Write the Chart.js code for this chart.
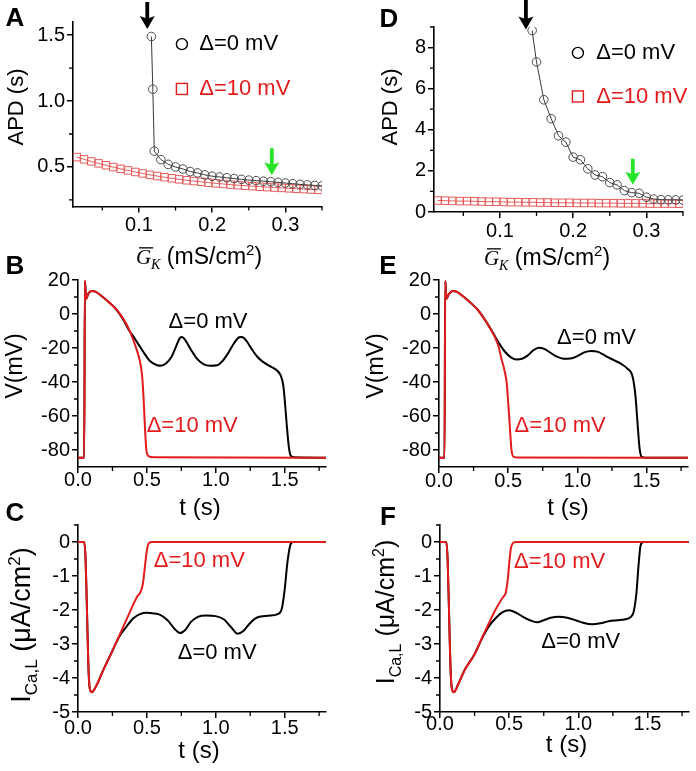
<!DOCTYPE html>
<html>
<head>
<meta charset="utf-8">
<script src="https://cdn.jsdelivr.net/npm/chart.js@4.4.1/dist/chart.umd.min.js"></script>
<style>
  html, body { margin: 0; padding: 0; background: #fff; }
  #fig { position: relative; width: 696px; height: 771px; overflow: hidden; }
  #fig canvas { position: absolute; }
</style>
</head>
<body>
<div id="fig">
  <canvas id="panelA" width="348" height="275" style="left:0;top:0"></canvas>
  <canvas id="panelD" width="348" height="275" style="left:348px;top:0"></canvas>
  <canvas id="panelB" width="348" height="285" style="left:0;top:240px"></canvas>
  <canvas id="panelE" width="348" height="285" style="left:348px;top:240px"></canvas>
  <canvas id="panelC" width="348" height="276" style="left:0;top:495px"></canvas>
  <canvas id="panelF" width="348" height="276" style="left:348px;top:495px"></canvas>
</div>
<script>
const RED = "#e41a1c";
const GREEN = "#27e427";
const SANS = "'Liberation Sans', Arial, sans-serif";
const SERIF = "'Liberation Serif', 'Times New Roman', serif";

// ---- A: APD vs G_K
const gkA0 = [0.117, 0.119, 0.121, 0.13, 0.14, 0.15, 0.16, 0.17, 0.18, 0.19, 0.20, 0.21, 0.22, 0.23, 0.24, 0.25, 0.26, 0.27, 0.28, 0.29, 0.30, 0.31, 0.32, 0.33, 0.34, 0.35];
const apdA0 = [1.49, 1.09, 0.62, 0.556, 0.52, 0.50, 0.485, 0.465, 0.455, 0.44, 0.43, 0.424, 0.418, 0.412, 0.406, 0.40, 0.396, 0.392, 0.388, 0.383, 0.378, 0.373, 0.368, 0.364, 0.36, 0.356];
const gkA10 = [0.015, 0.025, 0.035, 0.045, 0.055, 0.065, 0.075, 0.085, 0.095, 0.105, 0.115, 0.125, 0.135, 0.145, 0.155, 0.165, 0.175, 0.185, 0.195, 0.205, 0.215, 0.225, 0.235, 0.245, 0.255, 0.265, 0.275, 0.285, 0.295, 0.305, 0.315, 0.325, 0.335, 0.345];
const apdA10 = [0.575, 0.558, 0.542, 0.527, 0.513, 0.499, 0.486, 0.474, 0.462, 0.451, 0.440, 0.431, 0.422, 0.414, 0.406, 0.399, 0.393, 0.387, 0.381, 0.376, 0.371, 0.366, 0.362, 0.358, 0.354, 0.350, 0.347, 0.344, 0.341, 0.338, 0.335, 0.332, 0.329, 0.326];

// ---- D: APD vs G_K
const gkD0 = [0.144, 0.15, 0.16, 0.17, 0.18, 0.19, 0.20, 0.21, 0.22, 0.23, 0.24, 0.25, 0.26, 0.27, 0.28, 0.29, 0.30, 0.31, 0.32, 0.33, 0.34, 0.35];
const apdD0 = [8.83, 7.30, 5.46, 4.54, 3.71, 3.40, 2.67, 2.54, 2.10, 1.80, 1.72, 1.43, 1.32, 1.04, 0.94, 0.91, 0.72, 0.63, 0.60, 0.59, 0.59, 0.58];
const gkD10 = [0.015, 0.025, 0.035, 0.045, 0.055, 0.065, 0.075, 0.085, 0.095, 0.105, 0.115, 0.125, 0.135, 0.145, 0.155, 0.165, 0.175, 0.185, 0.195, 0.205, 0.215, 0.225, 0.235, 0.245, 0.255, 0.265, 0.275, 0.285, 0.295, 0.305, 0.315, 0.325, 0.335, 0.345];
const apdD10 = [0.56, 0.55, 0.54, 0.53, 0.53, 0.52, 0.51, 0.50, 0.50, 0.49, 0.48, 0.48, 0.47, 0.47, 0.46, 0.46, 0.45, 0.45, 0.45, 0.44, 0.44, 0.44, 0.43, 0.43, 0.43, 0.42, 0.42, 0.42, 0.42, 0.41, 0.41, 0.41, 0.41, 0.40];

// ---- B: V(t)
const tB0 = [0, 0.045, 0.05, 0.06, 0.075, 0.1, 0.13, 0.18, 0.23, 0.28, 0.33, 0.37, 0.40, 0.44, 0.48, 0.52, 0.57, 0.60, 0.64, 0.68, 0.71, 0.74, 0.755, 0.78, 0.82, 0.86, 0.91, 0.96, 1.01, 1.05, 1.09, 1.13, 1.17, 1.19, 1.22, 1.26, 1.30, 1.34, 1.40, 1.44, 1.47, 1.49, 1.50, 1.515, 1.53, 1.545, 1.57, 1.8];
const vB0 = [-84.5, -84.5, 19.5, 9, 12, 13.5, 13, 10, 6.5, 2.5, -3.5, -9.5, -13, -18, -23, -27.5, -30, -30.5, -29, -25, -19.5, -14, -13.5, -15.5, -21, -26, -29.5, -30.5, -30.2, -27.5, -23, -17.5, -13.7, -13.5, -15.5, -20.5, -25, -28, -31, -33, -36, -42, -50, -65, -78, -83.5, -84.3, -84.5];
const tB10 = [0, 0.045, 0.05, 0.06, 0.075, 0.1, 0.13, 0.18, 0.23, 0.28, 0.33, 0.37, 0.40, 0.43, 0.45, 0.465, 0.475, 0.485, 0.495, 0.51, 0.55, 1.8];
const vB10 = [-84.5, -84.5, 19.5, 9, 12, 13.5, 13, 10, 6.5, 2.5, -3, -9, -15, -22, -28, -36, -48, -65, -79, -83.5, -84.3, -84.5];

// ---- E: V(t)
const tE0 = [0, 0.04, 0.045, 0.055, 0.07, 0.1, 0.13, 0.18, 0.23, 0.28, 0.32, 0.36, 0.40, 0.44, 0.48, 0.52, 0.56, 0.60, 0.64, 0.68, 0.72, 0.76, 0.80, 0.85, 0.90, 0.95, 1.0, 1.05, 1.10, 1.15, 1.20, 1.26, 1.32, 1.36, 1.40, 1.42, 1.435, 1.45, 1.465, 1.49, 1.8];
const vE0 = [-84.5, -84.5, 19.5, 9, 11.5, 13.5, 13, 10, 6.5, 2.5, -2, -7, -12.5, -18, -22.5, -25.5, -26.7, -26.3, -24.5, -21.5, -19.8, -20.5, -22.5, -25, -26.3, -26.2, -24.8, -22.6, -21.7, -22.3, -24.5, -27, -29.5, -32, -37, -48, -64, -79, -84, -84.5, -84.5];
const tE10 = [0, 0.04, 0.045, 0.055, 0.07, 0.1, 0.13, 0.18, 0.23, 0.28, 0.32, 0.36, 0.40, 0.43, 0.45, 0.47, 0.49, 0.50, 0.507, 0.515, 0.524, 0.54, 0.57, 1.8];
const vE10 = [-84.5, -84.5, 19.5, 9, 11.5, 13.5, 13, 10, 6.5, 2.5, -2, -7, -13, -19, -26, -32, -41, -52, -60, -70, -80, -84, -84.4, -84.5];

// ---- C: I_CaL(t)
const tC0 = [0, 0.045, 0.055, 0.065, 0.075, 0.085, 0.1, 0.13, 0.18, 0.25, 0.3, 0.35, 0.4, 0.45, 0.5, 0.55, 0.6, 0.65, 0.7, 0.74, 0.78, 0.82, 0.87, 0.93, 1.0, 1.06, 1.11, 1.16, 1.2, 1.25, 1.3, 1.38, 1.45, 1.48, 1.5, 1.52, 1.54, 1.56, 1.8];
const iC0 = [0, 0, -0.5, -2, -3.6, -4.3, -4.42, -4.25, -3.8, -3.2, -2.78, -2.5, -2.25, -2.12, -2.08, -2.1, -2.15, -2.3, -2.55, -2.68, -2.58, -2.35, -2.2, -2.16, -2.18, -2.28, -2.5, -2.7, -2.62, -2.38, -2.22, -2.17, -2.12, -1.95, -1.4, -0.6, -0.1, 0, 0];
const tC10 = [0, 0.045, 0.055, 0.065, 0.075, 0.085, 0.1, 0.13, 0.18, 0.25, 0.3, 0.35, 0.4, 0.43, 0.45, 0.47, 0.485, 0.5, 0.515, 0.54, 1.8];
const iC10 = [0, 0, -0.5, -2, -3.6, -4.3, -4.42, -4.25, -3.8, -3.2, -2.75, -2.3, -1.85, -1.6, -1.5, -1.25, -0.75, -0.25, -0.03, 0, 0];

// ---- F: I_CaL(t)
const tF0 = [0, 0.045, 0.055, 0.065, 0.075, 0.085, 0.1, 0.13, 0.18, 0.25, 0.3, 0.35, 0.4, 0.45, 0.5, 0.55, 0.6, 0.65, 0.7, 0.75, 0.8, 0.86, 0.92, 0.98, 1.04, 1.1, 1.16, 1.22, 1.28, 1.34, 1.38, 1.4, 1.42, 1.435, 1.45, 1.47, 1.8];
const iF0 = [0, 0, -0.5, -2, -3.6, -4.3, -4.42, -4.2, -3.75, -3.3, -2.87, -2.5, -2.25, -2.07, -2.01, -2.08, -2.2, -2.3, -2.36, -2.3, -2.23, -2.2, -2.23, -2.3, -2.38, -2.42, -2.39, -2.33, -2.3, -2.27, -2.2, -2.05, -1.5, -0.7, -0.1, 0, 0];
const tF10 = [0, 0.045, 0.055, 0.065, 0.075, 0.085, 0.1, 0.13, 0.18, 0.25, 0.3, 0.35, 0.4, 0.44, 0.46, 0.475, 0.49, 0.5, 0.512, 0.53, 0.55, 1.8];
const iF10 = [0, 0, -0.5, -2, -3.6, -4.3, -4.42, -4.2, -3.75, -3.3, -2.85, -2.42, -2.0, -1.72, -1.6, -1.5, -1.1, -0.65, -0.2, -0.02, 0, 0];

// ---- ticks
const gkTicks = [0.1, 0.2, 0.3], gkLabels = ["0.1", "0.2", "0.3"];
const apdATicks = [0.5, 1.0, 1.5], apdALabels = ["0.5", "1.0", "1.5"];
const apdDTicks = [0, 2, 4, 6, 8], apdDLabels = ["0", "2", "4", "6", "8"];
const tTicks = [0, 0.5, 1.0, 1.5], tLabels = ["0.0", "0.5", "1.0", "1.5"];
const vTicks = [-80, -60, -40, -20, 0, 20], vLabels = ["-80", "-60", "-40", "-20", "0", "20"];
const iTicks = [-5, -4, -3, -2, -1, 0], iLabels = ["-5", "-4", "-3", "-2", "-1", "0"];

const pts = (xs, ys) => xs.map((x, i) => ({ x, y: ys[i] }));

function trace(xs, ys, color) {
  return { data: pts(xs, ys), borderColor: color, borderWidth: 2, pointRadius: 0, cubicInterpolationMode: "monotone", fill: false };
}
function circles(xs, ys) {
  return { data: pts(xs, ys), borderColor: "#3a3a3a", borderWidth: 1, pointStyle: "circle", pointRadius: 4.3,
    pointBorderColor: "#4a4a4a", pointBorderWidth: 1, pointBackgroundColor: "rgba(0,0,0,0)", tension: 0 };
}
function squares(xs, ys) {
  return { data: pts(xs, ys), borderColor: "#e85a5a", borderWidth: 1, pointStyle: "rect", pointRadius: 5.3,
    pointBorderColor: "#e85a5a", pointBorderWidth: 1, pointBackgroundColor: "rgba(0,0,0,0)", tension: 0 };
}

function axis(o) {
  return {
    type: "linear", min: o.min, max: o.max,
    afterFit: s => { if (s.isHorizontal()) s.height = o.size; else s.width = o.size; },
    afterBuildTicks: s => { s.ticks = o.ticks.map(v => ({ value: v })); },
    ticks: { callback: (v, i) => o.labels[i], color: "#000", font: { family: SANS, size: 20 },
      padding: o.pad === undefined ? 2 : o.pad, autoSkip: false, maxRotation: 0 },
    grid: { drawOnChartArea: false, tickLength: 6, tickWidth: 1.5, tickColor: "#000", color: "#000", lineWidth: 1.5 },
    border: { color: "#000", width: 1.6 }
  };
}

function rich(ctx, parts, ox, oy, rotated) {
  ctx.save();
  ctx.textAlign = "left"; ctx.textBaseline = "alphabetic"; ctx.fillStyle = "#000";
  const fontOf = p => `${p.style || ""} ${p.size}px ${p.serif ? SERIF : SANS}`;
  let w = 0;
  parts.forEach(p => { ctx.font = fontOf(p); p.w = ctx.measureText(p.t).width; w += p.w; });
  ctx.translate(ox, oy);
  if (rotated) ctx.rotate(-Math.PI / 2);
  let x = -w / 2;
  parts.forEach(p => {
    ctx.font = fontOf(p);
    ctx.fillText(p.t, x, p.dy || 0);
    if (p.bar) ctx.fillRect(x + 3, -p.size * 0.8, p.w - 1, 1.3);
    x += p.w;
  });
  ctx.restore();
}

function arrow(ctx, x, tip, len, color) {
  const hw = 7.5, hl = 13, sw = 1.9;
  ctx.fillStyle = color;
  ctx.beginPath();
  ctx.moveTo(x, tip);
  ctx.lineTo(x - hw, tip - hl);
  ctx.lineTo(x - sw, tip - hl + 2);
  ctx.lineTo(x - sw, tip - len);
  ctx.lineTo(x + sw, tip - len);
  ctx.lineTo(x + sw, tip - hl + 2);
  ctx.lineTo(x + hw, tip - hl);
  ctx.closePath();
  ctx.fill();
}

const decor = d => ({
  id: "decor",
  afterDraw(chart) {
    const { ctx, chartArea: a, scales } = chart;
    const sx = v => scales.x.getPixelForValue(v), sy = v => scales.y.getPixelForValue(v);
    ctx.save();
    // minor ticks
    ctx.strokeStyle = "#000"; ctx.lineWidth = 1.3;
    ctx.beginPath();
    d.xMinor.forEach(v => { ctx.moveTo(sx(v), a.bottom); ctx.lineTo(sx(v), a.bottom + 4); });
    d.yMinor.forEach(v => { ctx.moveTo(a.left, sy(v)); ctx.lineTo(a.left - 4, sy(v)); });
    ctx.stroke();
    // panel letter
    ctx.fillStyle = "#000"; ctx.font = `bold 26px ${SANS}`;
    ctx.textAlign = "center"; ctx.textBaseline = "middle";
    ctx.fillText(d.letter, d.letterAt[0], d.letterAt[1]);
    // axis titles
    rich(ctx, d.xTitle, d.xTitleAt[0], d.xTitleAt[1], false);
    rich(ctx, d.yTitle, d.yTitleAt[0], d.yTitleAt[1], true);
    // labels inside the plot
    ctx.font = `22px ${SANS}`; ctx.textBaseline = "middle";
    (d.labels || []).forEach(l => {
      ctx.fillStyle = l.color; ctx.textAlign = "center";
      ctx.fillText(l.text, sx(l.x), sy(l.y));
    });
    // legend keys
    (d.keys || []).forEach(k => {
      const px = sx(k.x), py = sy(k.y);
      ctx.lineWidth = 1.4; ctx.strokeStyle = k.color;
      if (k.marker === "circle") { ctx.beginPath(); ctx.arc(px, py, 5.5, 0, Math.PI * 2); ctx.stroke(); }
      else ctx.strokeRect(px - 5.5, py - 5.5, 11, 11);
      ctx.fillStyle = k.color; ctx.textAlign = "left";
      ctx.fillText(k.text, sx(k.textX), py);
    });
    // arrows
    (d.arrows || []).forEach(ar => arrow(ctx, sx(ar.x), sy(ar.y), ar.len, ar.color));
    ctx.restore();
  }
});

function panel(id, cfg) {
  return new Chart(document.getElementById(id), {
    type: "line",
    data: { datasets: cfg.datasets },
    options: {
      responsive: false, animation: false, events: [],
      layout: { padding: { top: cfg.pad[0], right: cfg.pad[1], left: 0, bottom: 0 } },
      plugins: { legend: { display: false }, tooltip: { enabled: false } },
      scales: { x: axis(cfg.x), y: axis(cfg.y) }
    },
    plugins: [decor(cfg.decor)]
  });
}

const gkTitle = () => [
  { t: "G", size: 21, style: "italic", serif: true, bar: true },
  { t: "K", size: 14, style: "italic", serif: true, dy: 5 },
  { t: " (mS/cm", size: 23 }, { t: "2", size: 15, dy: -9 }, { t: ")", size: 23 }
];
const tTitle = () => [{ t: "t (s)", size: 24 }];
const iTitle = s => [
  { t: "I", size: s }, { t: "Ca,L", size: Math.round(s * 0.64), dy: 7 },
  { t: " (\u03bcA/cm", size: s }, { t: "2", size: Math.round(s * 0.64), dy: -10 }, { t: ")", size: s }
];

// red traces go first so they are painted on top
panel("panelA", {
  datasets: [circles(gkA0, apdA0), squares(gkA10, apdA10)],
  pad: [22, 26],
  x: { min: 0.01, max: 0.35, size: 68.5, ticks: gkTicks, labels: gkLabels, pad: 1 },
  y: { min: 0.2, max: 1.6, size: 73, ticks: apdATicks, labels: apdALabels },
  decor: {
    letter: "A", letterAt: [15, 19],
    xTitle: gkTitle(), xTitleAt: [199, 264],
    yTitle: [{ t: "APD (s)", size: 22 }], yTitleAt: [23, 107],
    xMinor: [0.05, 0.15, 0.25, 0.35], yMinor: [0.25, 0.75, 1.25],
    keys: [
      { marker: "circle", x: 0.1587, y: 1.432, textX: 0.1823, text: "\u0394=0 mV", color: "#000" },
      { marker: "rect", x: 0.1587, y: 1.092, textX: 0.1823, text: "\u0394=10 mV", color: RED }
    ],
    arrows: [{ x: 0.1114, y: 1.547, len: 27, color: "#000" }, { x: 0.2815, y: 0.437, len: 27, color: GREEN }]
  }
});

panel("panelD", {
  datasets: [circles(gkD0, apdD0), squares(gkD10, apdD10)],
  pad: [27, 13],
  x: { min: 0.01, max: 0.35, size: 63, ticks: gkTicks, labels: gkLabels, pad: 1.5 },
  y: { min: 0, max: 9, size: 86, ticks: apdDTicks, labels: apdDLabels },
  decor: {
    letter: "D", letterAt: [41, 20],
    xTitle: gkTitle(), xTitleAt: [199, 265],
    yTitle: [{ t: "APD (s)", size: 22 }], yTitleAt: [49, 107],
    xMinor: [0.05, 0.15, 0.25, 0.35], yMinor: [1, 3, 5, 7, 9],
    keys: [
      { marker: "circle", x: 0.2065, y: 7.74, textX: 0.2315, text: "\u0394=0 mV", color: "#000" },
      { marker: "rect", x: 0.2065, y: 5.62, textX: 0.2315, text: "\u0394=10 mV", color: RED }
    ],
    arrows: [{ x: 0.1355, y: 8.88, len: 30, color: "#000" }, { x: 0.2815, y: 1.32, len: 26, color: GREEN }]
  }
});

panel("panelB", {
  datasets: [trace(tB10, vB10, RED), trace(tB0, vB0, "#000")],
  pad: [40, 22],
  x: { min: 0, max: 1.8, size: 58, ticks: tTicks, labels: tLabels, pad: -4.5 },
  y: { min: -90, max: 20, size: 78, ticks: vTicks, labels: vLabels },
  decor: {
    letter: "B", letterAt: [15, 27],
    xTitle: tTitle(), xTitleAt: [200, 275],
    yTitle: [{ t: "V(mV)", size: 23 }], yTitleAt: [22, 126],
    xMinor: [0.25, 0.75, 1.25, 1.75], yMinor: [-70, -50, -30, -10, 10],
    labels: [
      { x: 0.944, y: -4.5, text: "\u0394=0 mV", color: "#000" },
      { x: 0.829, y: -65.9, text: "\u0394=10 mV", color: RED }
    ]
  }
});

panel("panelE", {
  datasets: [trace(tE10, vE10, RED), trace(tE0, vE0, "#000")],
  pad: [40, 8],
  x: { min: 0, max: 1.8, size: 58, ticks: tTicks, labels: tLabels, pad: -4 },
  y: { min: -90, max: 20, size: 91, ticks: vTicks, labels: vLabels },
  decor: {
    letter: "E", letterAt: [40, 27],
    xTitle: tTitle(), xTitleAt: [220, 275],
    yTitle: [{ t: "V(mV)", size: 23 }], yTitleAt: [35, 126],
    xMinor: [0.25, 0.75, 1.25, 1.75], yMinor: [-70, -50, -30, -10, 10],
    labels: [
      { x: 1.139, y: -14, text: "\u0394=0 mV", color: "#000" },
      { x: 0.876, y: -65.9, text: "\u0394=10 mV", color: RED }
    ]
  }
});

panel("panelC", {
  datasets: [trace(tC10, iC10, RED), trace(tC0, iC0, "#000")],
  pad: [30, 22],
  x: { min: 0, max: 1.8, size: 59, ticks: tTicks, labels: tLabels, pad: -1.5 },
  y: { min: -5, max: 0.5, size: 78, ticks: iTicks, labels: iLabels },
  decor: {
    letter: "C", letterAt: [15, 19],
    xTitle: tTitle(), xTitleAt: [199, 263],
    yTitle: iTitle(27), yTitleAt: [30, 130],
    xMinor: [0.25, 0.75, 1.25, 1.75], yMinor: [-4.5, -3.5, -2.5, -1.5, -0.5, 0.5],
    labels: [
      { x: 0.88, y: -0.57, text: "\u0394=10 mV", color: RED },
      { x: 1.01, y: -3.27, text: "\u0394=0 mV", color: "#000" }
    ]
  }
});

panel("panelF", {
  datasets: [trace(tF10, iF10, RED), trace(tF0, iF0, "#000")],
  pad: [30, 7],
  x: { min: 0, max: 1.8, size: 59, ticks: tTicks, labels: tLabels, pad: -5.5 },
  y: { min: -5, max: 0.5, size: 92, ticks: iTicks, labels: iLabels },
  decor: {
    letter: "F", letterAt: [40, 22.5],
    xTitle: tTitle(), xTitleAt: [218.5, 257],
    yTitle: iTitle(25), yTitleAt: [46, 117],
    xMinor: [0.25, 0.75, 1.25, 1.75], yMinor: [-4.5, -3.5, -2.5, -1.5, -0.5, 0.5],
    labels: [
      { x: 0.865, y: -0.60, text: "\u0394=10 mV", color: RED },
      { x: 1.017, y: -2.95, text: "\u0394=0 mV", color: "#000" }
    ]
  }
});
</script>
</body>
</html>
